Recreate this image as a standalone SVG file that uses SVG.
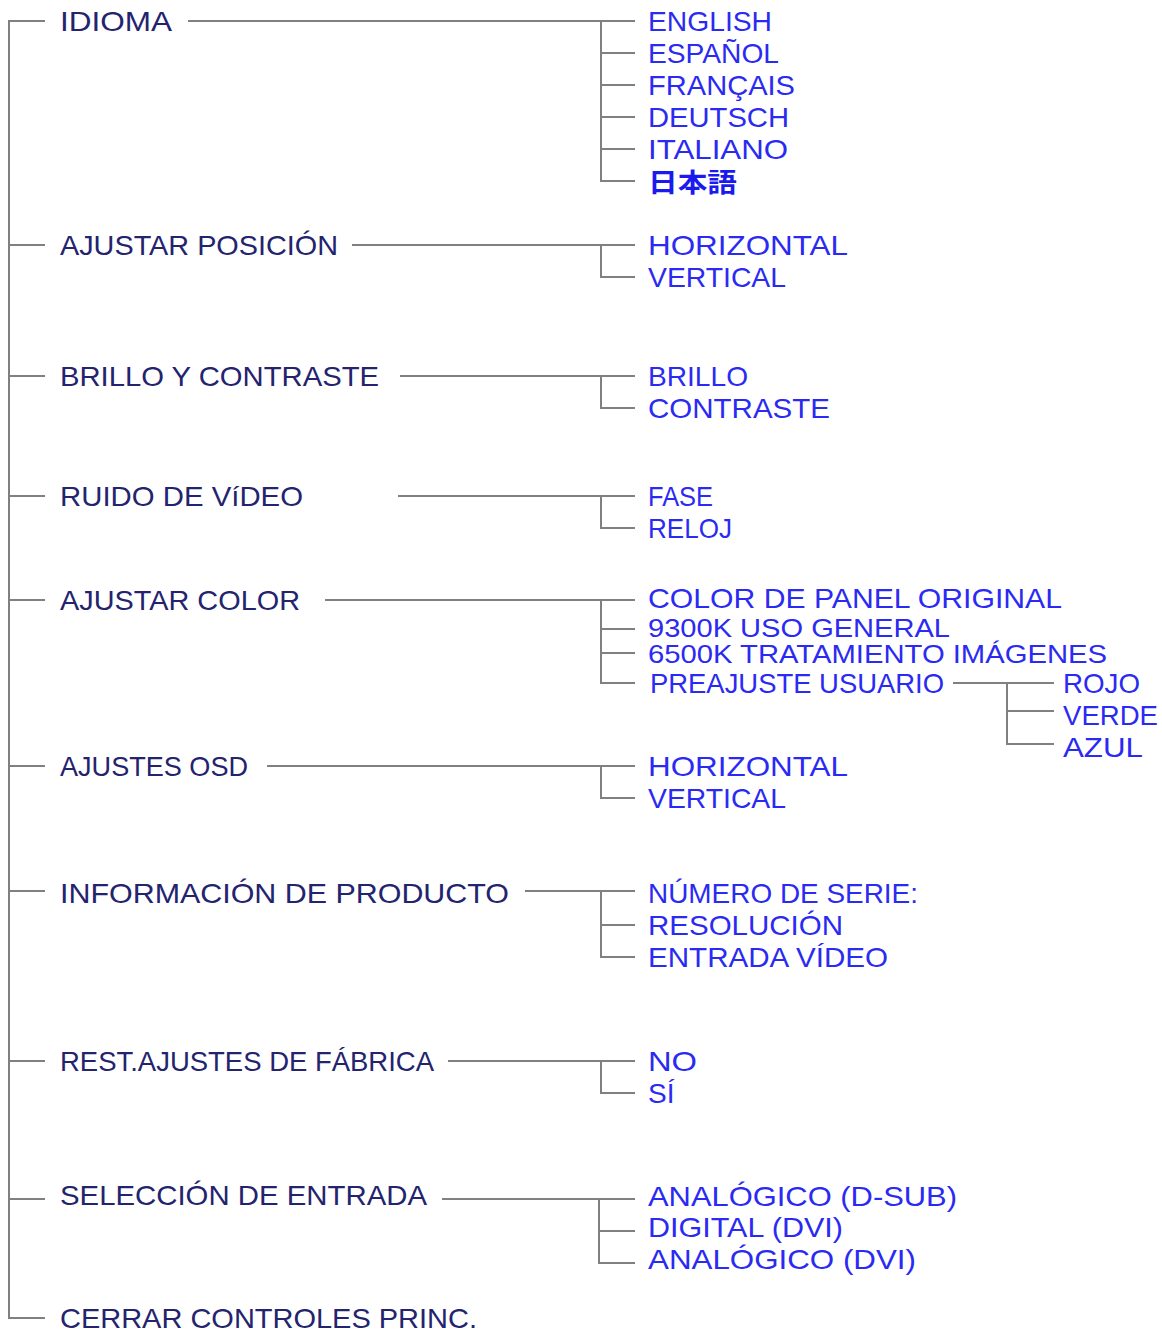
<svg xmlns="http://www.w3.org/2000/svg" width="1162" height="1334" viewBox="0 0 1162 1334">
<style>
text{font-family:"Liberation Sans","Noto Sans CJK JP",sans-serif;font-size:28px}
.m{fill:#23236e}
.s{fill:#2a2af2}
.c{font-size:25px}
.j{font-family:"Noto Sans CJK JP",sans-serif;font-weight:bold;fill:#1a1aee;font-size:26px}
#connectors line,#connectors path{stroke:#808080;stroke-width:2;fill:none}
</style>
<rect width="1162" height="1334" fill="#fff"/>
<g id="connectors">
<line x1="9" y1="20" x2="9" y2="1318"/>
<line x1="9" y1="21" x2="45" y2="21"/><line x1="9" y1="245" x2="45" y2="245"/><line x1="9" y1="376" x2="45" y2="376"/><line x1="9" y1="496" x2="45" y2="496"/><line x1="9" y1="600" x2="45" y2="600"/><line x1="9" y1="766" x2="45" y2="766"/><line x1="9" y1="891" x2="45" y2="891"/><line x1="9" y1="1061" x2="45" y2="1061"/><line x1="9" y1="1199" x2="45" y2="1199"/><line x1="8" y1="1318" x2="45" y2="1318"/>
<line x1="188" y1="21" x2="635" y2="21"/>
<path d="M601 21V181H635M601 53H635M601 85H635M601 117H635M601 149H635"/>
<line x1="352" y1="245" x2="635" y2="245"/>
<path d="M601 245V277H635"/>
<line x1="400" y1="376" x2="635" y2="376"/>
<path d="M601 376V408H635"/>
<line x1="398" y1="496" x2="635" y2="496"/>
<path d="M601 496V528H635"/>
<line x1="325" y1="600" x2="635" y2="600"/>
<path d="M601 600V683H635M601 629H635M601 653H635"/>
<line x1="953" y1="683" x2="1054" y2="683"/>
<path d="M1007 683V744H1054M1007 711H1054"/>
<line x1="267" y1="766" x2="635" y2="766"/>
<path d="M601 766V798H635"/>
<line x1="525" y1="891" x2="635" y2="891"/>
<path d="M601 891V925H635"/>
<path d="M601 925V957H635"/>
<line x1="448" y1="1061" x2="635" y2="1061"/>
<path d="M601 1061V1093H635"/>
<line x1="442" y1="1199" x2="635" y2="1199"/>
<path d="M599 1199V1263H635M599 1231H635"/>
</g>
<g id="idioma"><text class="m" x="60" y="31" textLength="112" lengthAdjust="spacingAndGlyphs">IDIOMA</text></g>
<g id="idioma-opts">
<text class="s" x="648" y="31" textLength="124" lengthAdjust="spacingAndGlyphs">ENGLISH</text>
<text class="s" x="648" y="63" textLength="131" lengthAdjust="spacingAndGlyphs">ESPAÑOL</text>
<text class="s" x="648" y="95" textLength="147" lengthAdjust="spacingAndGlyphs">FRANÇAIS</text>
<text class="s" x="648" y="127" textLength="141" lengthAdjust="spacingAndGlyphs">DEUTSCH</text>
<text class="s" x="648" y="159" textLength="140" lengthAdjust="spacingAndGlyphs">ITALIANO</text>
<text class="j" x="648" y="192" textLength="89" lengthAdjust="spacingAndGlyphs">日本語</text>
</g>
<g id="posicion"><text class="m" x="60" y="255" textLength="278" lengthAdjust="spacingAndGlyphs">AJUSTAR POSICIÓN</text></g>
<g id="posicion-opts">
<text class="s" x="648" y="255" textLength="200" lengthAdjust="spacingAndGlyphs">HORIZONTAL</text>
<text class="s" x="648" y="287" textLength="138" lengthAdjust="spacingAndGlyphs">VERTICAL</text>
</g>
<g id="brillo"><text class="m" x="60" y="386" textLength="319" lengthAdjust="spacingAndGlyphs">BRILLO Y CONTRASTE</text></g>
<g id="brillo-opts">
<text class="s" x="648" y="386" textLength="100" lengthAdjust="spacingAndGlyphs">BRILLO</text>
<text class="s" x="648" y="418" textLength="182" lengthAdjust="spacingAndGlyphs">CONTRASTE</text>
</g>
<g id="ruido"><text class="m" x="60" y="506" textLength="243" lengthAdjust="spacingAndGlyphs">RUIDO DE VíDEO</text></g>
<g id="ruido-opts">
<text class="s" x="648" y="506" textLength="65" lengthAdjust="spacingAndGlyphs">FASE</text>
<text class="s" x="648" y="538" textLength="84" lengthAdjust="spacingAndGlyphs">RELOJ</text>
</g>
<g id="color"><text class="m" x="60" y="610" textLength="240" lengthAdjust="spacingAndGlyphs">AJUSTAR COLOR</text></g>
<g id="color-opts">
<text class="s" x="648" y="608" textLength="414" lengthAdjust="spacingAndGlyphs">COLOR DE PANEL ORIGINAL</text>
<text class="s c" x="648" y="637" textLength="302" lengthAdjust="spacingAndGlyphs">9300K USO GENERAL</text>
<text class="s c" x="648" y="663" textLength="459" lengthAdjust="spacingAndGlyphs">6500K TRATAMIENTO IMÁGENES</text>
<text class="s" x="650" y="693" textLength="294" lengthAdjust="spacingAndGlyphs">PREAJUSTE USUARIO</text>
</g>
<g id="usuario-opts">
<text class="s" x="1063" y="693" textLength="77" lengthAdjust="spacingAndGlyphs">ROJO</text>
<text class="s" x="1063" y="725" textLength="95" lengthAdjust="spacingAndGlyphs">VERDE</text>
<text class="s" x="1063" y="757" textLength="80" lengthAdjust="spacingAndGlyphs">AZUL</text>
</g>
<g id="osd"><text class="m" x="60" y="776" textLength="188" lengthAdjust="spacingAndGlyphs">AJUSTES OSD</text></g>
<g id="osd-opts">
<text class="s" x="648" y="776" textLength="200" lengthAdjust="spacingAndGlyphs">HORIZONTAL</text>
<text class="s" x="648" y="808" textLength="138" lengthAdjust="spacingAndGlyphs">VERTICAL</text>
</g>
<g id="info"><text class="m" x="60" y="903" textLength="449" lengthAdjust="spacingAndGlyphs">INFORMACIÓN DE PRODUCTO</text></g>
<g id="info-opts">
<text class="s" x="648" y="903" textLength="270" lengthAdjust="spacingAndGlyphs">NÚMERO DE SERIE:</text>
<text class="s" x="648" y="935" textLength="195" lengthAdjust="spacingAndGlyphs">RESOLUCIÓN</text>
<text class="s" x="648" y="967" textLength="240" lengthAdjust="spacingAndGlyphs">ENTRADA VÍDEO</text>
</g>
<g id="rest"><text class="m" x="60" y="1071" textLength="374" lengthAdjust="spacingAndGlyphs">REST.AJUSTES DE FÁBRICA</text></g>
<g id="rest-opts">
<text class="s" x="648" y="1071" textLength="49" lengthAdjust="spacingAndGlyphs">NO</text>
<text class="s" x="648" y="1103">SÍ</text>
</g>
<g id="entrada"><text class="m" x="60" y="1205" textLength="367" lengthAdjust="spacingAndGlyphs">SELECCIÓN DE ENTRADA</text></g>
<g id="entrada-opts">
<text class="s" x="648" y="1206" textLength="309" lengthAdjust="spacingAndGlyphs">ANALÓGICO (D-SUB)</text>
<text class="s" x="648" y="1237" textLength="195" lengthAdjust="spacingAndGlyphs">DIGITAL (DVI)</text>
<text class="s" x="648" y="1269" textLength="268" lengthAdjust="spacingAndGlyphs">ANALÓGICO (DVI)</text>
</g>
<g id="cerrar"><text class="m" x="60" y="1328" textLength="417" lengthAdjust="spacingAndGlyphs">CERRAR CONTROLES PRINC.</text></g>
</svg>
